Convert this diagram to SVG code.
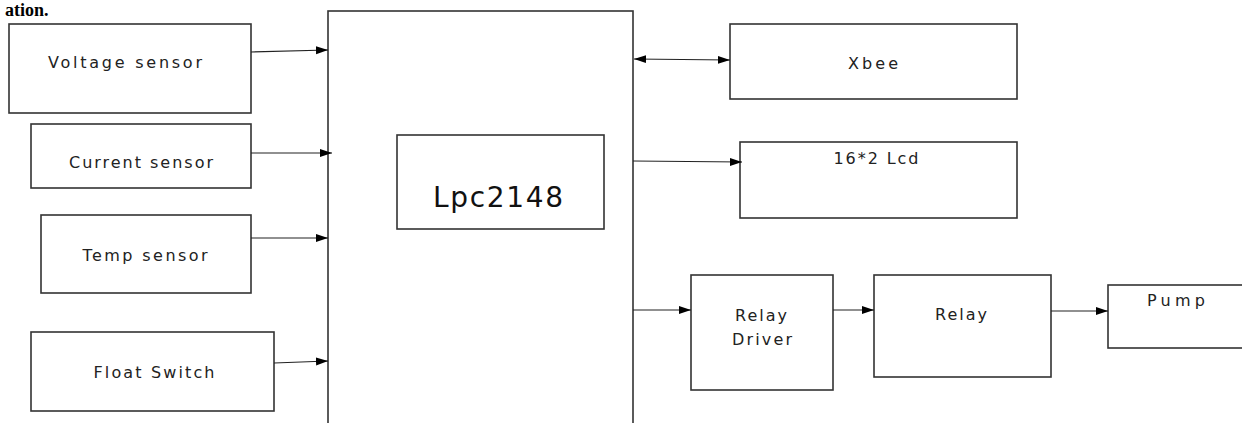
<svg xmlns="http://www.w3.org/2000/svg" width="1242" height="423" viewBox="0 0 1242 423">
<style>
.box{fill:#fff;stroke:#333;stroke-width:1.6}
.lbl{font-family:"DejaVu Sans",Verdana,sans-serif;font-size:16px;fill:#222;text-anchor:middle}
.big{font-family:"DejaVu Sans",Verdana,sans-serif;font-size:28px;fill:#111;text-anchor:middle}
.con{stroke:#222;stroke-width:1.2;fill:none;marker-end:url(#ah)}
.doc{font-family:"Liberation Serif","Times New Roman",serif;font-size:18px;font-weight:bold;fill:#000}
</style>
<defs>
<marker id="ah" markerUnits="userSpaceOnUse" markerWidth="14" markerHeight="10" refX="12" refY="5" orient="auto-start-reverse">
<path d="M0,1 L12,5 L0,9 Z" fill="#000"/>
</marker>
</defs>
<rect width="1242" height="423" fill="#fff"/>
<text class="doc" x="5" y="16">ation.</text>

<g id="lpc2148">
<rect class="box" x="328" y="11" width="305" height="430"/>
<rect class="box" x="397" y="135" width="207" height="94"/>
<text class="big" x="498" y="207" textLength="130" lengthAdjust="spacing">Lpc2148</text>
</g>
<g id="voltage">
<rect class="box" x="9" y="24" width="242" height="89"/>
<text class="lbl" x="125" y="68" textLength="154" lengthAdjust="spacing">Voltage sensor</text>
</g>
<g id="current">
<rect class="box" x="31" y="124" width="220" height="64"/>
<text class="lbl" x="141" y="168" textLength="144" lengthAdjust="spacing">Current sensor</text>
</g>
<g id="temp">
<rect class="box" x="41" y="215" width="210" height="78"/>
<text class="lbl" x="145" y="261" textLength="125" lengthAdjust="spacing">Temp sensor</text>
</g>
<g id="float">
<rect class="box" x="31" y="332" width="243" height="79"/>
<text class="lbl" x="154" y="378" textLength="121" lengthAdjust="spacing">Float Switch</text>
</g>
<g id="xbee">
<rect class="box" x="730" y="24" width="287" height="75"/>
<text class="lbl" x="873" y="69" textLength="50" lengthAdjust="spacing">Xbee</text>
</g>
<g id="lcd">
<rect class="box" x="740" y="142" width="277" height="76"/>
<text class="lbl" x="876" y="164" textLength="85" lengthAdjust="spacing">16*2 Lcd</text>
</g>
<g id="relaydriver">
<rect class="box" x="691" y="275" width="142" height="115"/>
<text class="lbl" x="761" y="321" textLength="52" lengthAdjust="spacing">Relay</text>
<text class="lbl" x="762" y="345" textLength="60" lengthAdjust="spacing">Driver</text>
</g>
<g id="relay">
<rect class="box" x="874" y="275" width="177" height="102"/>
<text class="lbl" x="961" y="320" textLength="52" lengthAdjust="spacing">Relay</text>
</g>
<g id="pump">
<rect class="box" x="1108" y="285" width="140" height="63"/>
<text class="lbl" x="1176" y="306" textLength="58" lengthAdjust="spacing">Pump</text>
</g>

<g id="connectors">
<line class="con" x1="251" y1="52" x2="328" y2="50"/>
<line class="con" x1="251" y1="153" x2="332" y2="153"/>
<line class="con" x1="251" y1="238" x2="328" y2="238"/>
<line class="con" x1="274" y1="363" x2="328" y2="361"/>
<line class="con" x1="634" y1="59" x2="730" y2="60" style="marker-start:url(#ah)"/>
<line class="con" x1="633" y1="161" x2="742" y2="162"/>
<line class="con" x1="633" y1="310" x2="691" y2="310"/>
<line class="con" x1="833" y1="310" x2="874" y2="310"/>
<line class="con" x1="1051" y1="311" x2="1108" y2="311"/>
</g>
</svg>
